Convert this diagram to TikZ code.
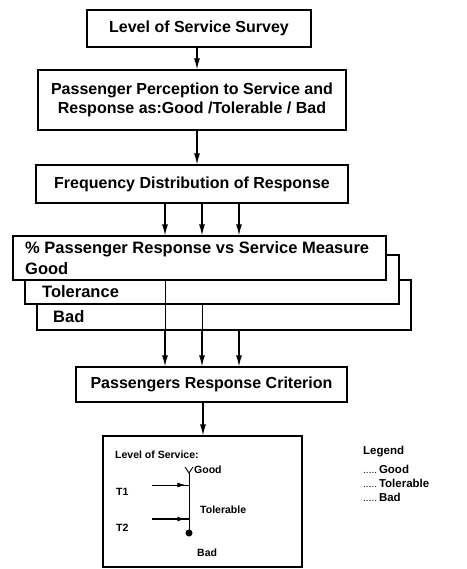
\documentclass[tikz,border=0pt]{standalone}
\usepackage{fontspec}
\setmainfont{Liberation Sans}
\usetikzlibrary{arrows.meta,decorations.markings,calc}
\begin{document}
\begin{tikzpicture}[x=1pt,y=-1pt,
  box/.style={draw, line width=1.2pt, fill=white, inner sep=0pt,
    font=\fontsize{16}{19}\selectfont\bfseries},
  txt/.style={inner sep=0pt, font=\fontsize{16.5}{19}\selectfont\bfseries},
  sm/.style={inner sep=0pt, font=\fontsize{10.5}{12}\selectfont\bfseries},
  leg/.style={inner sep=0pt, font=\fontsize{11.5}{13}\selectfont\bfseries},
  arr/.style={line width=1.2pt, -{Latex[length=11pt,width=6pt]}},
  tarr/.style={line width=1pt, postaction={decorate},
    decoration={markings, mark=at position 0.9 with {\arrow{Latex[length=8pt,width=5pt]}}}}
]
\useasboundingbox[fill=white] (0,0) rectangle (466,569);

% main boxes
\node[box, minimum width=224pt, minimum height=37pt] (b1) at (199,28.5) {Level of Service Survey};
\node[box, minimum width=308pt, minimum height=60pt, align=center] (b2) at (192,100)
  {Passenger Perception to Service and\\Response as:Good /Tolerable / Bad};
\node[box, minimum width=312pt, minimum height=38pt] (b3) at (192,184) {Frequency Distribution of Response};

% stacked boxes
\node[box, minimum width=374pt, minimum height=50pt] (b4b) at (224,305) {};
\node[box, minimum width=374pt, minimum height=49pt] (b4m) at (212,279.5) {};
\node[box, minimum width=373pt, minimum height=44pt] (b4f) at (199.5,258) {};
\node[txt, anchor=west] (t4a) at (25,249) {\% Passenger Response vs Service Measure};
\node[txt, anchor=west] (t4b) at (25,269) {Good};
\node[txt, anchor=west] (t4c) at (42,292) {Tolerance};
\node[txt, anchor=west] (t4d) at (53,317) {Bad};

\node[box, minimum width=271pt, minimum height=35pt] (b5) at (211.5,384.5) {Passengers Response Criterion};
\node[box, minimum width=199pt, minimum height=131pt] (b6) at (202.5,501.5) {};

% arrow columns
\coordinate (xl) at (165,0);
\coordinate (xm) at (202,0);
\coordinate (xr) at (239,0);
\coordinate (xc) at (197,0);
\coordinate (xd) at (203,0);

\draw[arr] (xc |- b1.south) -- (xc |- b2.north);
\draw[arr] (xc |- b2.south) -- (xc |- b3.north);
\draw[arr] (xl |- b3.south) -- (xl |- b4f.north);
\draw[arr] (xm |- b3.south) -- (xm |- b4f.north);
\draw[arr] (xr |- b3.south) -- (xr |- b4f.north);
\draw[line width=0.6pt] (xl |- b4f.south) -- (xl |- b4b.south);
\draw[arr] (xl |- b4b.south) -- (xl |- b5.north);
\draw[line width=0.9pt] (xm |- b4m.south) -- (xm |- b4b.south);
\draw[arr] (xm |- b4b.south) -- (xm |- b5.north);
\draw[arr] (xr |- b4b.south) -- (xr |- b5.north);
\draw[arr] (xd |- b5.south) -- (xd |- b6.north);

% inside level of service box
\node[sm, anchor=west] (lvl) at (115,455) {Level of Service:};
\coordinate (gtop) at (189,473);
\node[circle, fill=black, inner sep=0pt, minimum size=7pt] (dot) at (189,533) {};
\draw[line width=1pt] (gtop) -- (dot.center);
\draw[line width=0.9pt] ($(gtop)+(-4,-6)$) -- (gtop) -- ($(gtop)+(4,-6)$);
\node[sm, anchor=west] (good) at (194,470) {Good};
\node[sm, anchor=west] (tol) at (200,510) {Tolerable};
\node[sm, anchor=west] (bad) at (197,553) {Bad};
\node[sm, anchor=west] (T1) at (116,492) {T1};
\node[sm, anchor=west] (T2) at (116,528) {T2};
\coordinate (t1s) at (152,485);
\coordinate (t2s) at (152,519);
\draw[tarr, line width=0.8pt] (t1s) -- (t1s -| gtop);
\draw[tarr, line width=1.3pt] (t2s) -- (t2s -| gtop);

% legend
\node[leg, anchor=west] (lg) at (363,452) {Legend};
\node[leg, anchor=west] (lg1) at (363,469) {{\mdseries\fontsize{10}{11}\selectfont .....}\,Good};
\node[leg, anchor=west] (lg2) at (363,483) {{\mdseries\fontsize{10}{11}\selectfont .....}\,Tolerable};
\node[leg, anchor=west] (lg3) at (363,497) {{\mdseries\fontsize{10}{11}\selectfont .....}\,Bad};
\end{tikzpicture}
\end{document}
